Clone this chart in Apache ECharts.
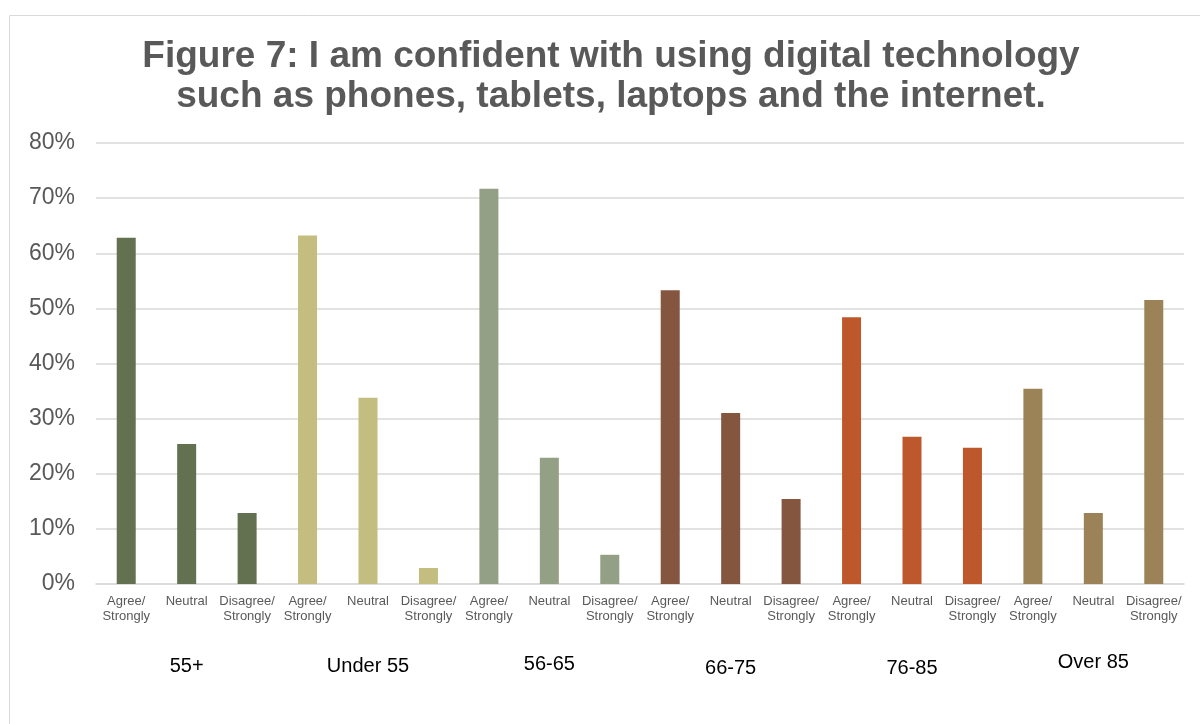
<!DOCTYPE html>
<html>
<head>
<meta charset="utf-8">
<title>Figure 7</title>
<script src="https://cdn.jsdelivr.net/npm/echarts@6/dist/echarts.min.js"></script>
<style>
  html, body { margin: 0; padding: 0; background: #ffffff; }
  #chart { width: 1200px; height: 724px; }
</style>
</head>
<body>
<div id="chart"></div>
<script>
// Age groups and the three answer bands shown for each one
const groups = ['55+', 'Under 55', '56-65', '66-75', '76-85', 'Over 85'];
const responses = ['Agree/\nStrongly', 'Neutral', 'Disagree/\nStrongly'];

// Share of respondents (%) per answer band, one array per age group
const values55Plus  = [62.8, 25.4, 12.9];
const valuesUnder55 = [63.2, 33.8, 2.9];
const values56to65  = [71.7, 22.9, 5.3];
const values66to75  = [53.3, 31.0, 15.4];
const values76to85  = [48.4, 26.7, 24.7];
const valuesOver85  = [35.4, 12.9, 51.5];

// Y axis ticks (%)
const yTicks = [0, 10, 20, 30, 40, 50, 60, 70, 80];

const groupValues = [values55Plus, valuesUnder55, values56to65, values66to75, values76to85, valuesOver85];
const groupColors = ['#637150', '#c3bd80', '#94a085', '#85563f', '#bd582c', '#9c8357'];
// small vertical nudges for the age-group captions
const groupLabelNudge = [4, 4, 2, 6, 6, 0];

const categories = [];
const barData = [];
groupValues.forEach(function (vals, g) {
  vals.forEach(function (v, r) {
    categories.push(responses[r]);
    barData.push({ value: v, itemStyle: { color: groupColors[g] } });
  });
});

// The group axis has one slot per category; the caption sits under the middle bar
const groupAxisData = categories.map(function (c, i) {
  const g = Math.floor(i / 3);
  if (i % 3 === 1) {
    return { value: groups[g], textStyle: { padding: [groupLabelNudge[g], 0, 0, 0] } };
  }
  return '';
});

const fontFamily = '"Liberation Sans", Arial, Helvetica, sans-serif';
const chart = echarts.init(document.getElementById('chart'));

chart.setOption({
  animation: false,
  backgroundColor: '#ffffff',
  title: {
    text: 'Figure 7: I am confident with using digital technology\nsuch as phones, tablets, laptops and the internet.',
    left: 611,
    top: 37,
    padding: 0,
    textAlign: 'center',
    textStyle: {
      fontFamily: fontFamily,
      fontSize: 37,
      fontWeight: 'bold',
      color: '#595959',
      lineHeight: 40
    }
  },
  graphic: [{
    type: 'rect',
    shape: { x: 9.5, y: 15.5, width: 1200, height: 720 },
    style: { fill: 'none', stroke: '#d9d9d9', lineWidth: 1 },
    silent: true,
    z: -1
  }],
  grid: { left: 96, right: 16, top: 143, bottom: 140 },
  xAxis: [{
    type: 'category',
    data: categories,
    axisLine: { show: true, lineStyle: { color: '#d9d9d9', width: 1.5 } },
    axisTick: { show: false },
    axisLabel: {
      interval: 0,
      margin: 10,
      fontFamily: fontFamily,
      fontSize: 13,
      lineHeight: 15,
      color: '#595959'
    }
  }, {
    type: 'category',
    data: groupAxisData,
    position: 'bottom',
    offset: 60,
    axisLine: { show: false },
    axisTick: { show: false },
    axisLabel: {
      interval: 0,
      margin: 8,
      fontFamily: fontFamily,
      fontSize: 20,
      lineHeight: 20,
      color: '#000000'
    }
  }],
  yAxis: {
    type: 'value',
    min: yTicks[0],
    max: yTicks[yTicks.length - 1],
    interval: yTicks[1] - yTicks[0],
    axisLine: { show: false },
    axisTick: { show: false },
    splitLine: { lineStyle: { color: '#d9d9d9', width: 1.5 } },
    axisLabel: {
      margin: 21,
      fontFamily: fontFamily,
      fontSize: 23,
      color: '#595959',
      formatter: '{value}%'
    }
  },
  series: [{
    type: 'bar',
    xAxisIndex: 0,
    data: barData,
    barWidth: 19
  }]
});
</script>
</body>
</html>
